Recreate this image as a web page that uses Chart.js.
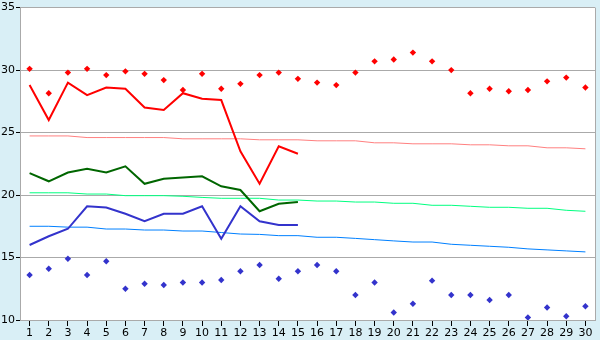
<!DOCTYPE html>
<html>
<head>
<meta charset="utf-8">
<script src="https://cdn.jsdelivr.net/npm/chart.js@4/dist/chart.umd.min.js"></script>
<style>
  body { margin: 0; background: #d9eff6; }
  #wrap { width: 600px; height: 340px; }
</style>
</head>
<body>
<div id="wrap"><canvas id="chart" width="600" height="340"></canvas></div>
<script>
// Jours du mois
const days = ['1','2','3','4','5','6','7','8','9','10','11','12','13','14','15',
              '16','17','18','19','20','21','22','23','24','25','26','27','28','29','30'];

// Températures mesurées (jours 1-15)
const maxTemp = [28.8, 26.0, 29.0, 28.0, 28.6, 28.5, 27.0, 26.8, 28.15, 27.7, 27.6, 23.5, 20.9, 23.9, 23.3];
const meanTemp = [21.75, 21.1, 21.8, 22.1, 21.8, 22.3, 20.9, 21.3, 21.4, 21.5, 20.7, 20.4, 18.7, 19.3, 19.45];
const minTemp = [16.0, 16.7, 17.3, 19.1, 19.0, 18.5, 17.9, 18.5, 18.5, 19.1, 16.5, 19.1, 17.9, 17.6, 17.6];

// Records
const recordMax = [30.1, 28.15, 29.8, 30.1, 29.6, 29.9, 29.7, 29.2, 28.4, 29.7, 28.5, 28.9, 29.6, 29.8, 29.3,
                   29.0, 28.8, 29.8, 30.7, 30.85, 31.4, 30.7, 30.0, 28.15, 28.5, 28.3, 28.4, 29.1, 29.4, 28.6];
const recordMin = [13.6, 14.1, 14.9, 13.6, 14.7, 12.5, 12.9, 12.8, 13.0, 13.0, 13.2, 13.9, 14.4, 13.3, 13.9,
                   14.4, 13.9, 12.0, 13.0, 10.6, 11.3, 13.15, 12.0, 12.0, 11.6, 12.0, 10.2, 11.0, 10.3, 11.1];

// Normales
const normalMax = [24.73, 24.73, 24.73, 24.6, 24.6, 24.6, 24.6, 24.6, 24.5, 24.5, 24.5, 24.5, 24.42, 24.42, 24.42,
                   24.34, 24.34, 24.34, 24.18, 24.18, 24.1, 24.1, 24.1, 24.02, 24.02, 23.94, 23.94, 23.78, 23.78, 23.7];
const normalMean = [20.18, 20.18, 20.18, 20.08, 20.08, 19.95, 19.95, 19.95, 19.9, 19.81, 19.74, 19.74, 19.74, 19.6, 19.6,
                    19.52, 19.52, 19.44, 19.44, 19.34, 19.34, 19.18, 19.18, 19.1, 19.02, 19.02, 18.94, 18.94, 18.78, 18.7];
const normalMin = [17.5, 17.5, 17.43, 17.43, 17.28, 17.28, 17.2, 17.2, 17.12, 17.12, 17.0, 16.88, 16.85, 16.75, 16.75,
                   16.62, 16.62, 16.53, 16.43, 16.33, 16.24, 16.24, 16.06, 15.98, 15.9, 15.82, 15.69, 15.61, 15.53, 15.45];

const yTicks = [10, 15, 20, 25, 30, 35];

// Fond bleu clair + zone de tracé blanche
const backgroundPlugin = {
    id: 'background',
    beforeDraw(chart) {
        const { ctx, chartArea: a } = chart;
        ctx.save();
        ctx.fillStyle = '#d9eff6';
        ctx.fillRect(0, 0, chart.width, chart.height);
        ctx.fillStyle = '#ffffff';
        ctx.fillRect(a.left, a.top, a.right - a.left, a.bottom - a.top);
        ctx.strokeStyle = '#aaaaaa';
        ctx.lineWidth = 1;
        ctx.beginPath();
        ctx.moveTo(a.right + 0.5, a.top);
        ctx.lineTo(a.right + 0.5, a.bottom);
        ctx.stroke();
        ctx.restore();
    }
};

function lineSet(label, data, color, width, order) {
    return {
        label, data,
        borderColor: color,
        backgroundColor: color,
        borderWidth: width,
        pointRadius: 0,
        fill: false,
        tension: 0,
        order
    };
}

function pointSet(label, data, color, order) {
    return {
        label, data,
        showLine: false,
        borderColor: color,
        backgroundColor: color,
        pointStyle: 'rectRot',
        pointRadius: 3.2,
        pointBorderWidth: 0,
        order
    };
}

new Chart(document.getElementById('chart'), {
    type: 'line',
    data: {
        labels: days,
        datasets: [
            lineSet('Normale max', normalMax, '#ff8080', 1, 6),
            lineSet('Normale moy', normalMean, '#00ff80', 1, 6),
            lineSet('Normale min', normalMin, '#0080ff', 1, 6),
            pointSet('Record max', recordMax, '#ff0000', 4),
            pointSet('Record min', recordMin, '#3333cc', 4),
            lineSet('Max', maxTemp, '#ff0000', 2, 1),
            lineSet('Moy', meanTemp, '#006600', 2, 1),
            lineSet('Min', minTemp, '#3333cc', 2, 1)
        ]
    },
    options: {
        responsive: false,
        animation: false,
        layout: { padding: { top: 5, right: 5, left: 0, bottom: 0 } },
        plugins: {
            legend: { display: false },
            tooltip: { enabled: false }
        },
        scales: {
            x: {
                offset: true,
                afterFit(scale) { scale.height = 20; },
                grid: {
                    offset: false,
                    drawOnChartArea: false,
                    tickLength: 6,
                    tickColor: '#000000'
                },
                border: { color: '#aaaaaa' },
                ticks: {
                    color: '#000000',
                    padding: 1,
                    maxRotation: 0,
                    autoSkip: false,
                    font: { family: 'DejaVu Sans', size: 11 }
                }
            },
            y: {
                min: 10,
                max: 35,
                afterFit(scale) { scale.width = 20; },
                afterBuildTicks(scale) { scale.ticks = yTicks.map(v => ({ value: v })); },
                grid: {
                    color: '#aaaaaa',
                    tickLength: 4,
                    tickColor: '#000000'
                },
                border: { color: '#aaaaaa' },
                ticks: {
                    color: '#000000',
                    padding: 1,
                    font: { family: 'DejaVu Sans', size: 11 }
                }
            }
        }
    },
    plugins: [backgroundPlugin]
});
</script>
</body>
</html>
